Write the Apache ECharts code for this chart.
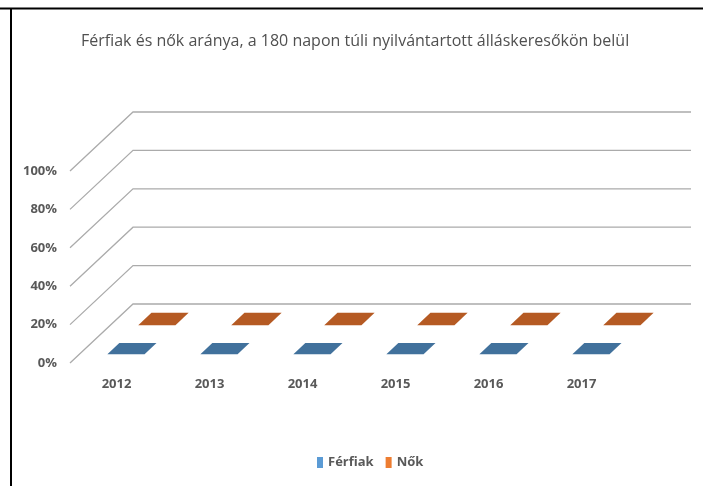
<!DOCTYPE html>
<html>
<head>
<meta charset="utf-8">
<script src="https://cdn.jsdelivr.net/npm/echarts@6/dist/echarts.min.js"></script>
<style>
html, body { margin: 0; padding: 0; background: #fff; }
#chart { width: 703px; height: 486px; }
</style>
</head>
<body>
<div id="chart"></div>
<script>
// adatok
const years = ['2012', '2013', '2014', '2015', '2016', '2017'];
const ferfiak = [0, 0, 0, 0, 0, 0];
const nok = [0, 0, 0, 0, 0, 0];
const yTicks = [0, 0.2, 0.4, 0.6, 0.8, 1];

// 3D mélység eltolás (px)
const DX = 63, DY = 59;
const FONT = "'Open Sans', sans-serif";

const chart = echarts.init(document.getElementById('chart'));

function barRender(d0, d1, fill) {
    return function (params, api) {
        const top = api.coord([api.value(0), api.value(1)]);
        const base = api.coord([api.value(0), 0]);
        const bw = api.size([1, 0])[0] * 0.4;
        const l = top[0] - bw / 2, r = top[0] + bw / 2;
        const children = [{
            type: 'polygon',
            shape: {points: [
                [l + d0 * DX, top[1] - d0 * DY],
                [r + d0 * DX, top[1] - d0 * DY],
                [r + d1 * DX, top[1] - d1 * DY],
                [l + d1 * DX, top[1] - d1 * DY]
            ]},
            style: {fill: fill}
        }];
        if (base[1] - top[1] > 0.5) {
            children.push({
                type: 'rect',
                shape: {x: l + d0 * DX, y: top[1] - d0 * DY, width: bw, height: base[1] - top[1]},
                style: {fill: fill}
            });
        }
        return {type: 'group', children: children};
    };
}

chart.setOption({
    animation: false,
    title: {
        text: 'Férfiak és nők aránya, a 180 napon túli nyilvántartott álláskeresőkön belül',
        left: 76,
        top: 28,
        textStyle: {fontFamily: FONT, fontSize: 16, fontWeight: 'normal', color: '#505050'}
    },
    legend: {
        bottom: 12,
        left: 312,
        data: ['Férfiak', 'Nők'],
        icon: 'rect',
        itemWidth: 6,
        itemHeight: 11,
        itemGap: 12,
        textStyle: {fontFamily: FONT, fontSize: 13, fontWeight: 'bold', color: '#595959'}
    },
    grid: {left: 70, right: 75, top: 171, bottom: 123},
    xAxis: {
        type: 'category',
        data: years,
        axisLine: {show: false},
        axisTick: {show: false},
        axisLabel: {margin: 15, fontFamily: FONT, fontSize: 13, fontWeight: 'bold', color: '#595959'}
    },
    yAxis: {
        type: 'value',
        min: 0,
        max: 1,
        interval: 0.2,
        splitLine: {show: false},
        axisLine: {show: false},
        axisLabel: {
            margin: 13,
            fontFamily: FONT, fontSize: 13, fontWeight: 'bold', color: '#595959',
            formatter: v => Math.round(v * 100) + '%'
        }
    },
    graphic: [
        {type: 'line', shape: {x1: 0, y1: 8.5, x2: 703, y2: 8.5}, style: {stroke: '#000', lineWidth: 2}},
        {type: 'line', shape: {x1: 11, y1: 8, x2: 11, y2: 486}, style: {stroke: '#000', lineWidth: 2}}
    ],
    series: [
        {
            name: 'rács',
            type: 'custom',
            silent: true,
            z: 1,
            data: yTicks.map(v => [0, v]),
            renderItem: function (params, api) {
                const cs = params.coordSys;
                const y = api.coord([0, api.value(1)])[1];
                return {
                    type: 'polyline',
                    shape: {points: [[cs.x, y], [cs.x + DX, y - DY], [cs.x + cs.width + DX, y - DY]]},
                    style: {stroke: '#ababab', lineWidth: 1.3, fill: null}
                };
            }
        },
        {
            name: 'Férfiak',
            type: 'custom',
            z: 3,
            itemStyle: {color: '#5B9BD5'},
            data: ferfiak.map((v, i) => [i, v]),
            renderItem: barRender(0.15, 0.34, '#41719c')
        },
        {
            name: 'Nők',
            type: 'custom',
            z: 2,
            itemStyle: {color: '#ED7D31'},
            data: nok.map((v, i) => [i, v]),
            renderItem: barRender(0.64, 0.85, '#b55a23')
        }
    ]
});
</script>
</body>
</html>
